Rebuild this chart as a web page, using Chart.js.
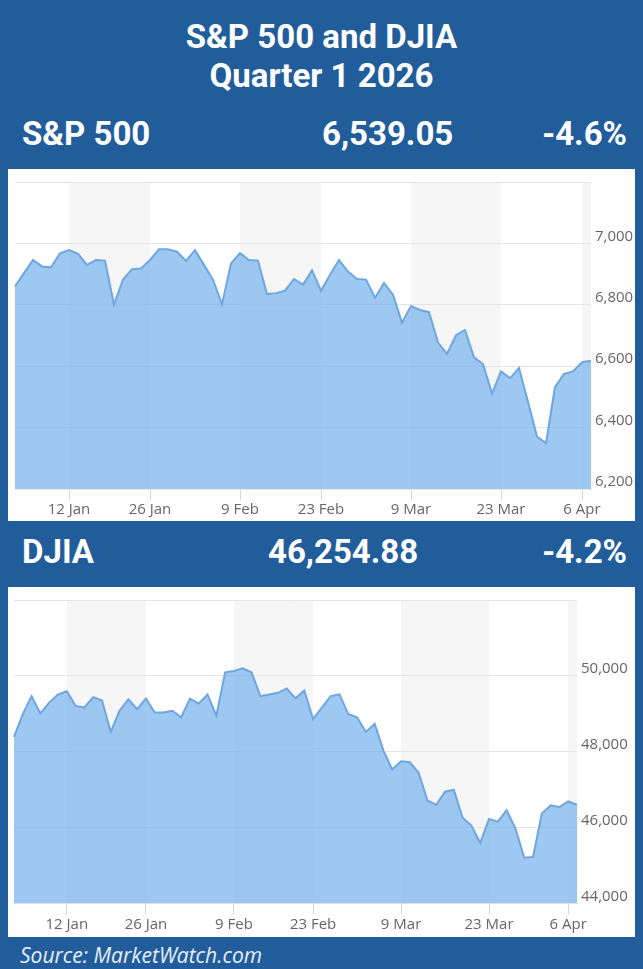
<!DOCTYPE html>
<html>
<head>
<meta charset="utf-8">
<script src="https://cdn.jsdelivr.net/npm/chart.js@4.4.1/dist/chart.umd.min.js"></script>
<style>
  html, body { margin: 0; padding: 0; }
  body {
    width: 643px; height: 969px; position: relative; overflow: hidden;
    background: #215d9b; color: #fff;
    font-family: Roboto, "Liberation Sans", Arial, sans-serif;
  }
  .title { position: absolute; left: 0; width: 643px; text-align: center; font-weight: 700; font-size: 33px; line-height: 38px; }
  .hdr { position: absolute; font-weight: 700; font-size: 33px; line-height: 38px; white-space: nowrap; }
  .panel { position: absolute; left: 8px; width: 627px; background: #fff; }
  .panel canvas { display: block; }
  .foot { position: absolute; left: 20px; top: 940px; font-family: "Open Sans", sans-serif; font-style: italic; font-size: 21px; line-height: 30px; color: #e8eef6; }
</style>
</head>
<body>
<div class="title" style="top:18px">S&amp;P 500 and DJIA</div>
<div class="title" style="top:57px">Quarter 1 2026</div>

<div class="hdr" style="left:22px; top:115px">S&amp;P 500</div>
<div class="hdr" style="left:322px; top:115px">6,539.05</div>
<div class="hdr" style="right:16px; top:115px">-4.6%</div>
<div class="panel" style="top:169px; height:352px"><canvas id="spx" width="627" height="352"></canvas></div>

<div class="hdr" style="left:22px; top:533px">DJIA</div>
<div class="hdr" style="left:268px; top:533px">46,254.88</div>
<div class="hdr" style="right:16px; top:533px">-4.2%</div>
<div class="panel" style="top:587px; height:350px"><canvas id="djia" width="627" height="350"></canvas></div>

<div class="foot">Source: MarketWatch.com</div>

<script>
// trading days, 2 Jan - 7 Apr 2026
const dates = [
  "2 Jan", "5 Jan", "6 Jan", "7 Jan", "8 Jan", "9 Jan", "12 Jan", "13 Jan", "14 Jan", "15 Jan", "16 Jan",
  "20 Jan", "21 Jan", "22 Jan", "23 Jan", "26 Jan", "27 Jan", "28 Jan", "29 Jan", "30 Jan",
  "2 Feb", "3 Feb", "4 Feb", "5 Feb", "6 Feb", "9 Feb", "10 Feb", "11 Feb", "12 Feb", "13 Feb",
  "17 Feb", "18 Feb", "19 Feb", "20 Feb", "23 Feb", "24 Feb", "25 Feb", "26 Feb", "27 Feb",
  "2 Mar", "3 Mar", "4 Mar", "5 Mar", "6 Mar", "9 Mar", "10 Mar", "11 Mar", "12 Mar", "13 Mar",
  "16 Mar", "17 Mar", "18 Mar", "19 Mar", "20 Mar", "23 Mar", "24 Mar", "25 Mar", "26 Mar", "27 Mar",
  "30 Mar", "31 Mar", "1 Apr", "2 Apr", "6 Apr", "7 Apr"
];
const tickLabels = ["12 Jan", "26 Jan", "9 Feb", "23 Feb", "9 Mar", "23 Mar", "6 Apr"];

const spxValues = [
  6860, 6903, 6946, 6925, 6922, 6968, 6978, 6966, 6930, 6946,
  6944, 6801, 6882, 6916, 6918, 6946, 6981, 6981, 6973, 6943,
  6978, 6930, 6882, 6801, 6935, 6968, 6946, 6944, 6835, 6838,
  6846, 6884, 6866, 6912, 6846, 6898, 6946, 6908, 6884, 6882,
  6823, 6871, 6833, 6742, 6796, 6783, 6776, 6677, 6640, 6701,
  6718, 6629, 6607, 6511, 6583, 6561, 6594, 6484, 6371, 6349,
  6532, 6575, 6583, 6613, 6618
];
const djiaValues = [
  48392, 48994, 49466, 49011, 49295, 49510, 49596, 49209, 49166, 49441,
  49355, 48521, 49080, 49381, 49123, 49407, 49037, 49037, 49080, 48909,
  49398, 49270, 49510, 48950, 50095, 50129, 50198, 50095, 49466, 49510,
  49553, 49665, 49407, 49613, 48865, 49166, 49466, 49510, 48994, 48909,
  48521, 48736, 48030, 47532, 47747, 47722, 47446, 46716, 46602, 46948,
  47000, 46259, 46053, 45596, 46225, 46156, 46458, 45983, 45209, 45227,
  46370, 46587, 46543, 46690, 46602
];
const spxTicks = [6200, 6400, 6600, 6800, 7000, 7200];
const djiaTicks = [44000, 46000, 48000, 50000, 52000];

const tickIdx = tickLabels.map(l => dates.indexOf(l));

// shaded columns between every other pair of date ticks
const bandPlugin = {
  id: "bands",
  beforeDraw(chart) {
    const { ctx, chartArea: a, scales: { x } } = chart;
    ctx.save();
    ctx.fillStyle = "#f6f6f6";
    for (let k = 0; k < tickIdx.length; k += 2) {
      const x0 = x.getPixelForValue(tickIdx[k]);
      const x1 = k + 1 < tickIdx.length ? x.getPixelForValue(tickIdx[k + 1]) : a.right;
      ctx.fillRect(x0, a.top, x1 - x0, a.bottom - a.top);
    }
    ctx.restore();
  }
};

function makeChart(id, values, yTicks, pad, yWidth, xHeight) {
  new Chart(document.getElementById(id), {
    type: "line",
    data: {
      labels: dates,
      datasets: [{
        data: values,
        borderColor: "#6ea7df",
        borderWidth: 2,
        backgroundColor: "rgba(124,181,236,0.75)",
        fill: "start",
        pointRadius: 0,
        tension: 0
      }]
    },
    options: {
      responsive: false,
      animation: false,
      layout: { padding: pad },
      plugins: { legend: { display: false }, tooltip: { enabled: false } },
      scales: {
        x: {
          ticks: {
            autoSkip: false,
            maxRotation: 0,
            padding: 1,
            color: "#666",
            font: { family: "Open Sans", size: 15 },
            callback(v) {
              const l = this.getLabelForValue(v);
              return tickLabels.includes(l) ? l : "";
            }
          },
          grid: {
            drawOnChartArea: false,
            tickLength: 11,
            color: c => tickIdx.includes(c.index) ? "#d6d6d6" : "rgba(0,0,0,0)"
          },
          border: { color: "#e6e6e6" },
          afterFit(s) { s.height = xHeight; }
        },
        y: {
          position: "right",
          min: yTicks[0],
          max: yTicks[yTicks.length - 1],
          afterBuildTicks(s) { s.ticks = yTicks.map(v => ({ value: v })); },
          ticks: {
            padding: 4,
            labelOffset: -7,
            color: "#666",
            font: { family: "Open Sans", size: 15 },
            callback: v => v === yTicks[yTicks.length - 1] ? "" : v.toLocaleString("en-US")
          },
          grid: { color: "#e4e4e4", drawTicks: false },
          border: { display: false },
          afterFit(s) { s.width = yWidth; }
        }
      }
    },
    plugins: [bandPlugin]
  });
}

makeChart("spx", spxValues, spxTicks, { left: 7, top: 7, right: 0, bottom: 0 }, 44, 32);
makeChart("djia", djiaValues, djiaTicks, { left: 6, top: 6.5, right: 0, bottom: 0 }, 58, 33.5);
</script>
</body>
</html>
